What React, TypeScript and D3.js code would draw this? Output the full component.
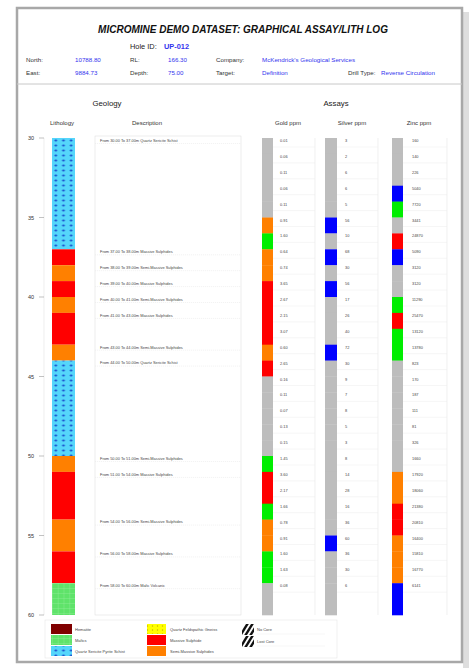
import React from 'react';
import * as d3 from 'd3';

// lithology intervals (m)
const lithFrom = [30, 37, 38, 39, 40, 41, 43, 44, 50, 51, 54, 56, 58];
const lithTo = [37, 38, 39, 40, 41, 43, 44, 50, 51, 54, 56, 58, 60];
const lithCode = ['QSS', 'MS', 'SMS', 'MS', 'SMS', 'MS', 'SMS', 'QSS', 'SMS', 'MS', 'SMS', 'MS', 'MAF'];
const lithName: Record<string, string> = {
  QSS: 'Quartz Sericite Schist',
  MS: 'Massive Sulphides',
  SMS: 'Semi-Massive Sulphides',
  MAF: 'Mafic Volcanic',
};

// assay intervals (m)
const assayFrom = [30, 31, 32, 33, 34, 35, 36, 37, 38, 39, 40, 41, 42, 43, 44, 45, 46, 47, 48, 49, 50, 51, 52, 53, 54, 55, 56, 57, 58];
const assayTo = [31, 32, 33, 34, 35, 36, 37, 38, 39, 40, 41, 42, 43, 44, 45, 46, 47, 48, 49, 50, 51, 52, 53, 54, 55, 56, 57, 58, 60];
const gold = [0.01, 0.06, 0.11, 0.06, 0.11, 0.91, 1.6, 0.64, 0.74, 3.65, 2.67, 2.15, 3.07, 0.6, 2.65, 0.16, 0.11, 0.07, 0.13, 0.15, 1.45, 3.6, 2.17, 1.66, 0.78, 0.91, 1.6, 1.63, 0.08];
const silver = [3, 2, 6, 6, 5, 56, 10, 68, 30, 56, 17, 26, 40, 72, 30, 9, 7, 8, 5, 3, 8, 14, 28, 16, 36, 60, 36, 30, 6];
const zinc = [160, 140, 226, 5040, 7720, 3441, 24870, 5090, 3120, 3120, 11290, 25470, 13120, 13780, 823, 170, 187, 111, 81, 326, 1660, 17920, 18060, 21380, 20810, 16400, 15810, 16770, 6141];

const depthTicks = [30, 35, 40, 45, 50, 55, 60];

const legendCol1 = ['Hematite', 'Mafics', 'Quartz Sericite Pyrite Schist'];
const legendCol2 = ['Quartz Feldspathic Gneiss', 'Massive Sulphide', 'Semi-Massive Sulphides'];
const legendCol3 = ['No Core', 'Lost Core'];

const FONT = '"Liberation Sans", Arial, sans-serif';
const BLUE = '#3333ee';
const GRAY = '#bdbdbd';

const lithFill: Record<string, string> = {
  QSS: 'url(#qss)',
  MS: '#ff0000',
  SMS: '#ff8000',
  MAF: 'url(#mafic)',
};

export default function App() {
  const y = d3.scaleLinear().domain([30, 60]).range([138, 615]);

  const goldColor = d3.scaleThreshold<number, string>().domain([0.5, 1, 2]).range([GRAY, '#ff8000', '#00ee00', '#ff0000']);
  const silverColor = d3.scaleThreshold<number, string>().domain([50]).range([GRAY, '#0000ff']);
  const zincColor = d3.scaleThreshold<number, string>().domain([5000, 7000, 15000, 20000]).range([GRAY, '#0000ff', '#00ee00', '#ff8000', '#ff0000']);

  const assayCols = [
    { title: 'Gold ppm', cx: 288, barX: 262, barW: 11, textX: 280, right: 315, vals: gold, color: goldColor, fmt: (v: number) => v.toFixed(2) },
    { title: 'Silver ppm', cx: 352, barX: 325, barW: 12, textX: 345, right: 378, vals: silver, color: silverColor, fmt: (v: number) => String(v) },
    { title: 'Zinc ppm', cx: 419, barX: 392, barW: 11, textX: 412, right: 447, vals: zinc, color: zincColor, fmt: (v: number) => String(v) },
  ];

  const lithX = 52, lithW = 23;
  const descL = 95, descR = 241;

  return (
    <svg width={476} height={668} style={{ position: 'absolute', left: 0, top: 0, fontFamily: FONT }}>
      <defs>
        <pattern id="qss" patternUnits="userSpaceOnUse" width={7.67} height={5} x={lithX} y={138}>
          <rect width={7.67} height={5} fill="#55d6fb" />
          <ellipse cx={3.8} cy={2.5} rx={1.5} ry={1.1} fill="#1e58d0" />
        </pattern>
        <pattern id="mafic" patternUnits="userSpaceOnUse" width={5.75} height={5} x={lithX} y={138}>
          <rect width={5.75} height={5} fill="#5fe36a" />
          <path d="M0,0H5.75M0,0V5" stroke="#9cf0a4" strokeWidth={0.6} />
        </pattern>
        <pattern id="gneiss" patternUnits="userSpaceOnUse" width={5} height={4}>
          <rect width={5} height={4} fill="#ffff00" />
          <circle cx={2.5} cy={2} r={0.7} fill="#c8b400" />
        </pattern>
      </defs>

      {/* page frame */}
      <rect x={463} y={12} width={6} height={656} fill="#dedede" />
      <rect x={17} y={8} width={445} height={654} fill="#fff" stroke="#a8a8a8" strokeWidth={2.5} />
      <line x1={17} x2={462} y1={84} y2={84} stroke="#c8c8c8" strokeWidth={1} />

      {/* header */}
      <text x={243} y={33} textAnchor="middle" fontSize={10} fontWeight="bold" fontStyle="italic" fill="#111">
        MICROMINE DEMO DATASET: GRAPHICAL ASSAY/LITH LOG
      </text>
      <text x={130} y={49} fontSize={7.4} fill="#222">Hole ID:</text>
      <text x={164} y={49} fontSize={7.4} fontWeight="bold" fill={BLUE}>UP-012</text>
      <g fontSize={6.2}>
        <text x={26} y={62} fill="#333">North:</text>
        <text x={75} y={62} fill={BLUE}>10788.80</text>
        <text x={130} y={62} fill="#333">RL:</text>
        <text x={168} y={62} fill={BLUE}>166.30</text>
        <text x={216} y={62} fill="#333">Company:</text>
        <text x={262} y={62} fill={BLUE}>McKendrick's Geological Services</text>
        <text x={26} y={75} fill="#333">East:</text>
        <text x={75} y={75} fill={BLUE}>9884.73</text>
        <text x={130} y={75} fill="#333">Depth:</text>
        <text x={168} y={75} fill={BLUE}>75.00</text>
        <text x={216} y={75} fill="#333">Target:</text>
        <text x={262} y={75} fill={BLUE}>Definition</text>
        <text x={348} y={75} fill="#333">Drill Type:</text>
        <text x={381} y={75} fill={BLUE}>Reverse Circulation</text>
      </g>

      {/* section headers */}
      <text x={107} y={106} textAnchor="middle" fontSize={7.8} fill="#222">Geology</text>
      <text x={336} y={106} textAnchor="middle" fontSize={7.8} fill="#222">Assays</text>
      <text x={62} y={125} textAnchor="middle" fontSize={6} fill="#333">Lithology</text>
      <text x={147} y={125} textAnchor="middle" fontSize={6} fill="#333">Description</text>
      {assayCols.map(c => (
        <text key={c.title} x={c.cx} y={125} textAnchor="middle" fontSize={6} fill="#333">{c.title}</text>
      ))}

      {/* depth axis */}
      <line x1={44} x2={44} y1={y(30)} y2={y(60)} stroke="#e2e2e2" strokeWidth={0.6} />
      {depthTicks.map(t => (
        <g key={t}>
          <line x1={39} x2={44} y1={y(t)} y2={y(t)} stroke="#999" strokeWidth={0.6} />
          <text x={31} y={y(t) + 2} textAnchor="middle" fontSize={5.5} fill="#333">{t}</text>
        </g>
      ))}

      {/* lithology column */}
      {lithFrom.map((f, i) => (
        <rect key={i} x={lithX} y={y(f)} width={lithW} height={y(lithTo[i]) - y(f)} fill={lithFill[lithCode[i]]} />
      ))}

      {/* description panel */}
      <rect x={descL} y={y(30) - 2} width={descR - descL} height={y(60) - y(30) + 2} fill="none" stroke="#e0e0e0" strokeWidth={0.6} />
      {lithFrom.map((f, i) => (
        <g key={i}>
          <line x1={descL} x2={descR} y1={y(f) + 5.5} y2={y(f) + 5.5} stroke="#e6e6e6" strokeWidth={0.5} strokeDasharray="1.2,0.8" />
          <text x={descL + 5} y={y(f) + 3.8} fontSize={3.9} fill="#444">
            {`From ${f.toFixed(2)} To ${lithTo[i].toFixed(2)}m ${lithName[lithCode[i]]}`}
          </text>
        </g>
      ))}

      {/* assay columns */}
      {assayCols.map(c => (
        <g key={c.title}>
          <line x1={c.right} x2={c.right} y1={y(30)} y2={y(60)} stroke="#e6e6e6" strokeWidth={0.6} />
          {assayFrom.map((f, i) => (
            <g key={i}>
              <rect x={c.barX} y={y(f)} width={c.barW} height={y(assayTo[i]) - y(f) + 0.3} fill={c.color(c.vals[i])} />
              <line x1={c.barX + c.barW} x2={c.right} y1={y(f) + 9} y2={y(f) + 9} stroke="#ececec" strokeWidth={0.5} />
              <text x={c.textX} y={y(f) + 4} fontSize={3.9} fill="#444">{c.fmt(c.vals[i])}</text>
            </g>
          ))}
        </g>
      ))}

      {/* legend */}
      <rect x={45} y={620} width={292} height={38} fill="none" stroke="#e6e6e6" strokeWidth={0.6} />
      {legendCol1.map((l, i) => (
        <g key={l}>
          <rect x={51} y={624 + i * 11} width={21} height={10} fill={['#800000', 'url(#mafic)', 'url(#qss)'][i]} />
          <text x={75} y={631 + i * 11} fontSize={4} fill="#444">{l}</text>
        </g>
      ))}
      {legendCol2.map((l, i) => (
        <g key={l}>
          <rect x={147} y={624 + i * 11} width={19} height={10} fill={['url(#gneiss)', '#ff0000', '#ff8000'][i]} />
          <text x={170} y={631 + i * 11} fontSize={4} fill="#444">{l}</text>
        </g>
      ))}
      {legendCol3.map((l, i) => {
        const yy = 624 + i * 12;
        return (
          <g key={l}>
            <clipPath id={`hc${i}`}><rect x={242} y={yy} width={12} height={11} /></clipPath>
            <g clipPath={`url(#hc${i})`}>
              {[0, 1, 2].map(k => (
                <line key={k} x1={240 + k * 5} y1={yy + 12} x2={248 + k * 5} y2={yy - 1} stroke="#111" strokeWidth={2.4} />
              ))}
            </g>
            <text x={257} y={yy + 7} fontSize={4} fill="#444">{l}</text>
            <line x1={257} x2={325} y1={yy + 10} y2={yy + 10} stroke="#ececec" strokeWidth={0.5} />
          </g>
        );
      })}
    </svg>
  );
}
